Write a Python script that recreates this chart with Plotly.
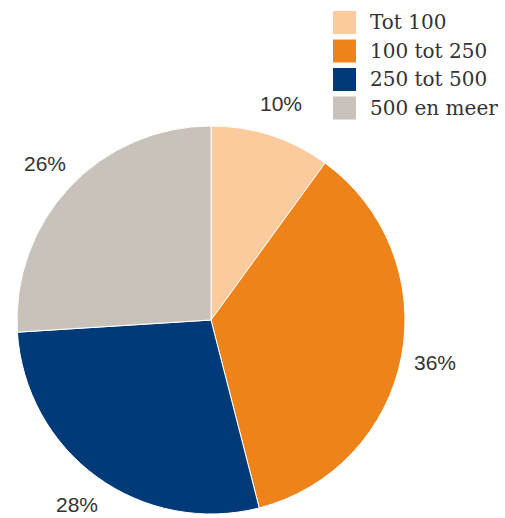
import math
import plotly.graph_objects as go

labels = ["Tot 100", "100 tot 250", "250 tot 500", "500 en meer"]
values = [10, 36, 28, 26]
colors = ["#FBCB9E", "#EE8419", "#013A78", "#C8C2BA"]

W, H = 505, 518
CX, CY, R = 211, 320, 194      # pie centre and radius in pixels
LABEL_R = 228                  # distance of the percentage labels from the centre

fig = go.Figure(go.Pie(
    labels=labels,
    values=values,
    sort=False,
    direction="clockwise",
    rotation=0,
    marker=dict(colors=colors, line=dict(color="white", width=1)),
    textinfo="none",
    showlegend=False,
    domain=dict(x=[(CX - R) / W, (CX + R) / W], y=[1 - (CY + R) / H, 1 - (CY - R) / H]),
    hoverinfo="label+percent",
))

annotations, shapes = [], []

# Percentage labels placed outside each slice at its mid angle
total = sum(values)
cum = 0
for v in values:
    mid = (cum + v / 2) / total * 2 * math.pi
    cum += v
    px = CX + LABEL_R * math.sin(mid)
    py = CY - LABEL_R * math.cos(mid)
    annotations.append(dict(xref="paper", yref="paper", x=px / W, y=1 - py / H,
                            xanchor="center", yanchor="middle", showarrow=False,
                            text=f"{v / total * 100:.0f}%",
                            font=dict(family="Liberation Sans", size=21, color="#333")))

# Legend drawn as square swatches with serif labels
x0, y0, sq, pitch = 333, 11, 23, 28.5
for i, (lab, col) in enumerate(zip(labels, colors)):
    top = y0 + i * pitch
    shapes.append(dict(type="rect", xref="paper", yref="paper",
                       x0=x0 / W, x1=(x0 + sq) / W,
                       y0=1 - (top + sq) / H, y1=1 - top / H,
                       fillcolor=col, line=dict(width=0)))
    annotations.append(dict(xref="paper", yref="paper",
                            x=368 / W, y=1 - (top + sq / 2) / H,
                            xanchor="left", yanchor="middle",
                            text=lab, showarrow=False,
                            font=dict(family="DejaVu Serif", size=20, color="#333")))

fig.update_layout(
    width=W, height=H,
    margin=dict(l=0, r=0, t=0, b=0),
    paper_bgcolor="white", plot_bgcolor="white",
    shapes=shapes, annotations=annotations,
)

fig.write_html("out.html")
